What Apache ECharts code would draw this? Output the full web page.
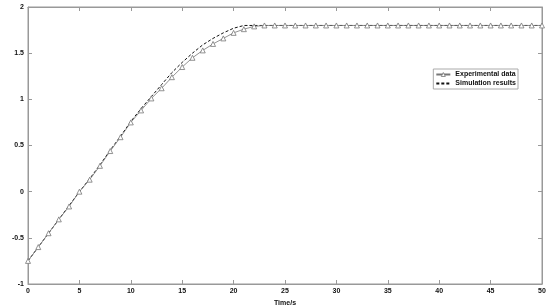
<!DOCTYPE html>
<html>
<head>
<meta charset="utf-8">
<script src="https://cdn.jsdelivr.net/npm/echarts@6/dist/echarts.min.js"></script>
<style>
  html, body { margin: 0; padding: 0; background: #fff; }
  #chart { width: 550px; height: 306px; }
</style>
</head>
<body>
<div id="chart"></div>
<script>
// time in seconds, one sample per second
const times = []
for (let t = 0; t <= 50; t++) times.push(t)

const experimental = [
  -0.75, -0.60, -0.45, -0.30, -0.16, 0.00, 0.13, 0.28, 0.44, 0.59,
  0.75, 0.88, 1.01, 1.12, 1.24, 1.35, 1.45, 1.53, 1.60, 1.66,
  1.72, 1.76, 1.79, 1.80, 1.80, 1.80, 1.80, 1.80, 1.80, 1.80,
  1.80, 1.80, 1.80, 1.80, 1.80, 1.80, 1.80, 1.80, 1.80, 1.80,
  1.80, 1.80, 1.80, 1.80, 1.80, 1.80, 1.80, 1.80, 1.80, 1.80,
  1.80
]

const simulation = [
  -0.75, -0.60, -0.45, -0.30, -0.15, 0.00, 0.14, 0.29, 0.45, 0.60,
  0.76, 0.90, 1.03, 1.16, 1.29, 1.40, 1.50, 1.59, 1.66, 1.72,
  1.77, 1.80, 1.80, 1.80, 1.80, 1.80, 1.80, 1.80, 1.80, 1.80,
  1.80, 1.80, 1.80, 1.80, 1.80, 1.80, 1.80, 1.80, 1.80, 1.80,
  1.80, 1.80, 1.80, 1.80, 1.80, 1.80, 1.80, 1.80, 1.80, 1.80,
  1.80
]

const xTicks = { min: 0, max: 50, interval: 5 }
const yTicks = { min: -1, max: 2, interval: 0.5 }

const font = 'Arial, "Liberation Sans", sans-serif'
const axisGray = '#999'

function frameAxis (pos, range) {
  return {
    type: 'value',
    position: pos,
    ...range,
    axisLine: { show: true, onZero: false, lineStyle: { color: axisGray, width: 1 } },
    axisTick: { show: true, inside: true, length: 4, lineStyle: { color: axisGray } },
    axisLabel: { show: false },
    splitLine: { show: false }
  }
}

const chart = echarts.init(document.getElementById('chart'))

chart.setOption({
  animation: false,
  grid: {
    left: 28,
    right: 8,
    top: 7,
    bottom: 22,
    show: true,
    borderColor: axisGray,
    borderWidth: 1,
    outerBoundsMode: 'none',
    containLabel: false
  },
  legend: {
    right: 32,
    top: 69,
    orient: 'vertical',
    itemWidth: 14,
    itemHeight: 5,
    itemGap: 2,
    padding: [2, 2, 2, 2],
    borderColor: '#aaa',
    borderWidth: 1,
    textStyle: { fontFamily: font, fontSize: 7, fontWeight: 'bold', color: '#111' },
    data: [
      { name: 'Experimental data', itemStyle: { color: '#fff', borderColor: '#777', borderWidth: 0.8 } },
      { name: 'Simulation results', itemStyle: { opacity: 0 } }
    ]
  },
  xAxis: [
    {
      type: 'value',
      position: 'bottom',
      ...xTicks,
      name: 'Time/s',
      nameLocation: 'middle',
      nameGap: 11,
      nameTextStyle: { fontFamily: font, fontSize: 7, fontWeight: 'bold', color: '#111' },
      axisLine: { show: true, onZero: false, lineStyle: { color: axisGray, width: 1 } },
      axisTick: { show: true, inside: true, length: 4, lineStyle: { color: axisGray } },
      axisLabel: { fontFamily: font, fontSize: 7, fontWeight: 'bold', color: '#111', margin: 4 },
      splitLine: { show: false }
    },
    frameAxis('top', xTicks)
  ],
  yAxis: [
    {
      type: 'value',
      position: 'left',
      ...yTicks,
      name: 'Pressure/kPa',
      nameLocation: 'middle',
      nameGap: 20,
      nameTextStyle: { fontFamily: font, fontSize: 7, fontWeight: 'bold', color: '#111' },
      axisLine: { show: true, onZero: false, lineStyle: { color: axisGray, width: 1 } },
      axisTick: { show: true, inside: true, length: 4, lineStyle: { color: axisGray } },
      axisLabel: { fontFamily: font, fontSize: 7, fontWeight: 'bold', color: '#111', margin: 4 },
      splitLine: { show: false }
    },
    frameAxis('right', yTicks)
  ],
  series: [
    {
      name: 'Experimental data',
      type: 'line',
      data: times.map((t, i) => [t, experimental[i]]),
      symbol: 'triangle',
      symbolSize: 5,
      showAllSymbol: true,
      itemStyle: { color: '#fff', borderColor: '#777', borderWidth: 0.8 },
      lineStyle: { color: '#777', width: 0.8 },
      z: 3
    },
    {
      name: 'Simulation results',
      type: 'line',
      data: times.map((t, i) => [t, simulation[i]]),
      symbol: 'none',
      itemStyle: { color: '#111' },
      lineStyle: { color: '#111', width: 1, type: [3, 2] },
      z: 2
    }
  ]
})
</script>
</body>
</html>
